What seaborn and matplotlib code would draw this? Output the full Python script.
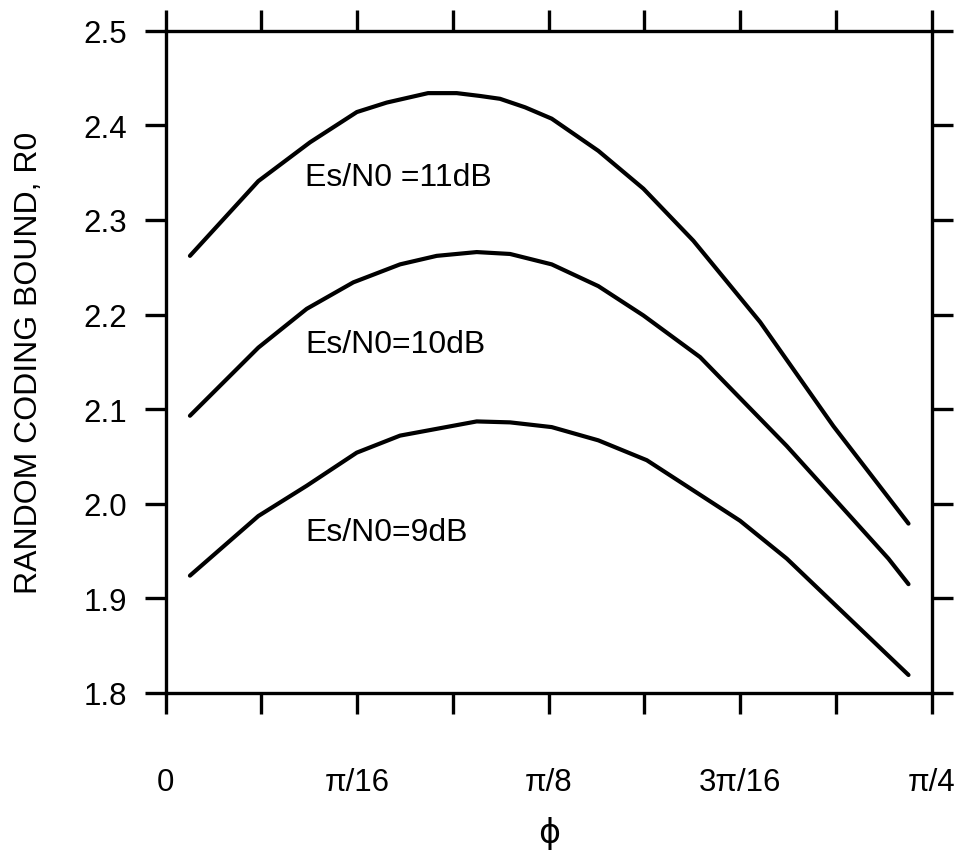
import numpy as np
import pandas as pd
import matplotlib
matplotlib.use("Agg")
import matplotlib.pyplot as plt
import seaborn as sns

# ======================
# Data (phi in radians)
# ======================
phi_11 = [0.0249, 0.0950, 0.1480, 0.1960, 0.2266, 0.2690, 0.2984, 0.3223, 0.3428,
          0.3685, 0.3958, 0.4436, 0.4898, 0.5410, 0.6095, 0.6846, 0.7616]
r0_11 = [2.262, 2.341, 2.382, 2.414, 2.424, 2.434, 2.434, 2.431, 2.428,
         2.419, 2.407, 2.373, 2.333, 2.278, 2.192, 2.082, 1.979]

phi_10 = [0.0249, 0.0950, 0.1446, 0.1924, 0.2403, 0.2779, 0.3189, 0.3531, 0.3958,
          0.4436, 0.4898, 0.5479, 0.6368, 0.7410, 0.7616]
r0_10 = [2.093, 2.165, 2.206, 2.234, 2.253, 2.262, 2.266, 2.264, 2.253,
         2.230, 2.199, 2.155, 2.061, 1.942, 1.915]

phi_9 = [0.0249, 0.0950, 0.1446, 0.1959, 0.2403, 0.3189, 0.3531, 0.3958, 0.4436,
         0.4933, 0.5889, 0.6368, 0.7616]
r0_9 = [1.924, 1.987, 2.019, 2.054, 2.072, 2.087, 2.086, 2.081, 2.067,
        2.046, 1.982, 1.942, 1.819]

curve_labels = ["Es/N0 =11dB", "Es/N0=10dB", "Es/N0=9dB"]
label_pos = [(0.143, 2.345), (0.143, 2.169), (0.143, 1.970)]

x_tick_labels = ["0", "", "\u03c0/16", "", "\u03c0/8", "", "3\u03c0/16", "", "\u03c0/4"]
y_ticks = [1.8, 1.9, 2.0, 2.1, 2.2, 2.3, 2.4, 2.5]

# ======================
# Build long-form table
# ======================
df = pd.concat([
    pd.DataFrame({"phi": phi_11, "R0": r0_11, "curve": "11dB"}),
    pd.DataFrame({"phi": phi_10, "R0": r0_10, "curve": "10dB"}),
    pd.DataFrame({"phi": phi_9, "R0": r0_9, "curve": "9dB"}),
])

sns.set_style("ticks")
plt.rcParams["font.family"] = ["Liberation Sans", "DejaVu Sans"]
plt.rcParams["text.color"] = "black"
plt.rcParams["axes.labelcolor"] = "black"
plt.rcParams["xtick.color"] = "black"
plt.rcParams["ytick.color"] = "black"

fig = plt.figure(figsize=(9.66, 8.54), dpi=100)
ax = fig.add_axes([0.1715, 0.1874, 0.793, 0.7755])

sns.lineplot(data=df, x="phi", y="R0", units="curve", estimator=None,
             color="black", linewidth=3.0, sort=False, ax=ax, legend=False)

for txt, (lx, ly) in zip(curve_labels, label_pos):
    ax.text(lx, ly, txt, fontsize=23, ha="left", va="center", color="black")

ax.set_xlim(0, np.pi / 4)
ax.set_ylim(1.8, 2.5)
ax.set_xticks(np.arange(9) * np.pi / 32)
ax.set_xticklabels(x_tick_labels)
ax.set_yticks(y_ticks)
ax.set_yticklabels([f"{v:.1f}" for v in y_ticks])

ax.tick_params(axis="both", direction="out", length=15, width=2.4, color="black",
               labelcolor="black", labelsize=22.5, top=True, right=True,
               labeltop=False, labelright=False)
ax.tick_params(axis="x", pad=38)
ax.tick_params(axis="y", pad=13)

for side in ["left", "right", "top", "bottom"]:
    ax.spines[side].set_visible(True)
    ax.spines[side].set_linewidth(2.4)
    ax.spines[side].set_color("black")

ax.set_xlabel("\u03d5", fontsize=24, labelpad=14, family=["DejaVu Sans"])
ax.set_ylabel("RANDOM CODING BOUND, R0", fontsize=23, labelpad=28)

fig.savefig("out.png", dpi=100)
plt.close(fig)
